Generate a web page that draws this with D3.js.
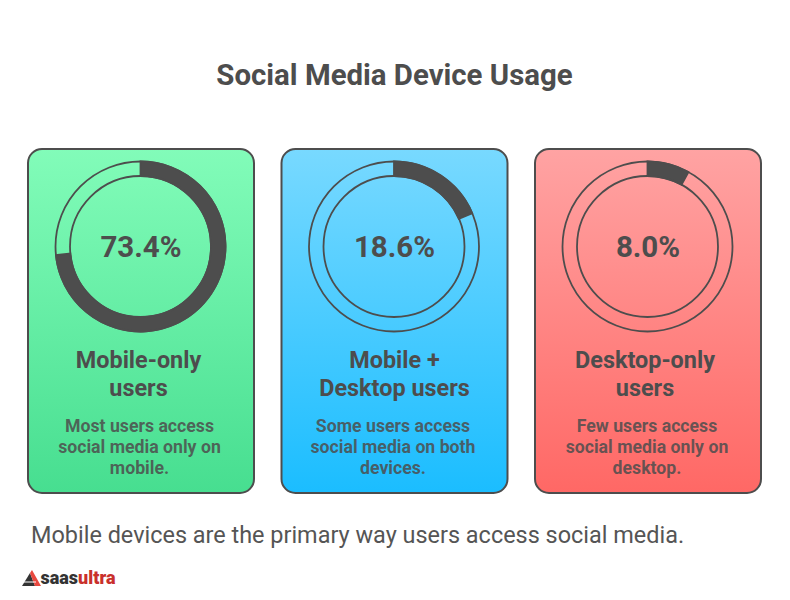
<!DOCTYPE html>
<html>
<head>
<meta charset="utf-8">
<script src="https://cdn.jsdelivr.net/npm/d3@7"></script>
<style>
  html, body { margin: 0; padding: 0; background: #fff; }
  text { font-family: Roboto, sans-serif; }
</style>
</head>
<body>
<svg id="chart" width="790" height="600"></svg>
<script>
const titleText = "Social Media Device Usage";
const footerText = "Mobile devices are the primary way users access social media.";
const shares = [73.4, 18.6, 8.0];
const labels = [["Mobile-only", "users"], ["Mobile +", "Desktop users"], ["Desktop-only", "users"]];
const notes = [
    ["Most users access", "social media only on", "mobile."],
    ["Some users access", "social media on both", "devices."],
    ["Few users access", "social media only on", "desktop."]
];
const gradients = [["#82fcb9", "#47de90"], ["#78d9ff", "#1bbdff"], ["#ffa3a3", "#ff6865"]];

const ink = "#4d4d4d";
const svg = d3.select("#chart");
const defs = svg.append("defs");

const cardW = 226, cardH = 344, cardTop = 149;
const xScale = d3.scalePoint().domain(d3.range(shares.length)).range([28, 535]);
const angle = d3.scaleLinear().domain([0, 100]).range([0, 2 * Math.PI]);
const outerR = 85, innerR = 70.5;
const arc = d3.arc().innerRadius(innerR).outerRadius(outerR).startAngle(0);
// text in the reference isn't quite centred on the cards
const labelShift = [-2.5, 0, -3];
const noteShift = [-1.5, -1.5, -1];

svg.append("text")
    .attr("x", 394.5).attr("y", 84.7)
    .attr("text-anchor", "middle")
    .attr("font-size", 29.4).attr("font-weight", 700)
    .attr("fill", ink)
    .text(titleText);

shares.forEach((v, i) => {
    const grad = defs.append("linearGradient")
        .attr("id", `card-${i}`)
        .attr("x1", 0).attr("y1", 0).attr("x2", 0).attr("y2", 1);
    grad.append("stop").attr("offset", "0%").attr("stop-color", gradients[i][0]);
    grad.append("stop").attr("offset", "100%").attr("stop-color", gradients[i][1]);

    const g = svg.append("g").attr("transform", `translate(${xScale(i)}, ${cardTop})`);
    const cx = cardW / 2;

    g.append("rect")
        .attr("width", cardW).attr("height", cardH).attr("rx", 14)
        .attr("fill", `url(#card-${i})`)
        .attr("stroke", ink).attr("stroke-width", 2);

    const ring = g.append("g").attr("transform", `translate(${cx - 0.5}, 97.5)`);
    ring.selectAll("circle")
        .data([outerR, innerR])
        .join("circle")
        .attr("r", d => d)
        .attr("fill", "none")
        .attr("stroke", ink).attr("stroke-width", 1.8);
    ring.append("path")
        .attr("d", arc({ endAngle: angle(v) }))
        .attr("fill", ink)
        .attr("stroke", ink).attr("stroke-width", 1.8);

    g.append("text")
        .attr("x", cx).attr("y", 108)
        .attr("text-anchor", "middle")
        .attr("font-size", 29.5).attr("font-weight", 700)
        .attr("fill", ink)
        .text(`${v.toFixed(1)}%`);

    g.selectAll(".label")
        .data(labels[i])
        .join("text")
        .attr("class", "label")
        .attr("x", cx + labelShift[i])
        .attr("y", (d, j) => 218.7 + j * 28)
        .attr("text-anchor", "middle")
        .attr("font-size", 23.4).attr("font-weight", 700)
        .attr("fill", ink)
        .text(d => d);

    g.selectAll(".note")
        .data(notes[i])
        .join("text")
        .attr("class", "note")
        .attr("x", cx + noteShift[i])
        .attr("y", (d, j) => 282.7 + j * 21)
        .attr("text-anchor", "middle")
        .attr("font-size", 17.7).attr("font-weight", 700)
        .attr("fill", ink).attr("fill-opacity", 0.85)
        .text(d => d);
});

svg.append("text")
    .attr("x", 31).attr("y", 543)
    .attr("font-size", 23.45)
    .attr("fill", "#555555")
    .text(footerText);

// logo
const logo = svg.append("g").attr("transform", "translate(22, 570)");
logo.append("path").attr("d", d3.line()([[0, 16], [8, 3], [13, 16]])).attr("fill", "#333333");
logo.append("path").attr("d", d3.line()([[8, 3], [10, 0], [19, 16], [13, 16]])).attr("fill", "#e8483f");
logo.append("path").attr("d", d3.line()([[2, 12], [14, 12]])).attr("stroke", "#fff").attr("stroke-width", 1);
const logoText = logo.append("text")
    .attr("x", 18.5).attr("y", 14)
    .attr("font-size", 18).attr("font-weight", 900);
logoText.append("tspan").attr("fill", "#333333").text("saas");
logoText.append("tspan").attr("fill", "#c9302c").text("ultra");
</script>
</body>
</html>
